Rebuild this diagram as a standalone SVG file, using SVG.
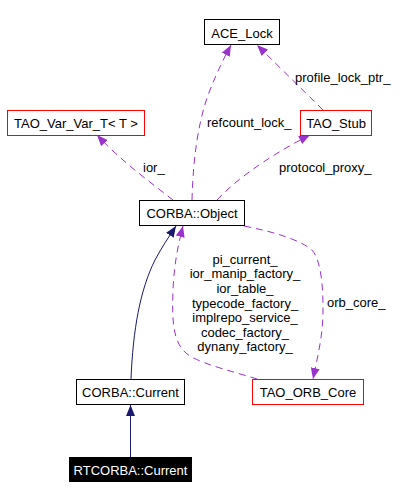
<svg xmlns="http://www.w3.org/2000/svg" width="419" height="499" viewBox="0 0 419 499">
<style>
.box{fill:#ffffff;stroke:#000000;stroke-width:1}
.red{stroke:#ff0000}
.lbl{font-family:"Liberation Sans",Arial,sans-serif;font-size:13px;fill:#000000}
.c{text-anchor:middle}
.dep{fill:none;stroke:#9a32cd;stroke-width:1;stroke-dasharray:7,5}
.inh{fill:none;stroke:#191970;stroke-width:1}
</style>
<defs>
<marker id="ap" markerUnits="userSpaceOnUse" markerWidth="12" markerHeight="9" refX="11" refY="4.5" orient="auto">
<path d="M0,0 L11,4.5 L0,9 z" fill="#9a32cd"/>
</marker>
<marker id="an" markerUnits="userSpaceOnUse" markerWidth="12" markerHeight="9" refX="11" refY="4.5" orient="auto">
<path d="M0,0 L11,4.5 L0,9 z" fill="#191970"/>
</marker>
</defs>
<rect width="419" height="499" fill="#ffffff"/>
<g id="connectors">
<path class="dep" d="M192,200 C193,160 198,120 210,90 C218,70 224,58 231,45" marker-end="url(#ap)"/>
<path class="dep" d="M323,110 L257,45" marker-end="url(#ap)"/>
<path class="dep" d="M173,200 C150,182 120,160 97,135" marker-end="url(#ap)"/>
<path class="dep" d="M217,200 C240,175 280,150 310,135" marker-end="url(#ap)"/>
<path class="dep" d="M244,226 C275,232 300,240 312,250 C322,262 323,290 323,310 C323,335 318,355 313,379" marker-end="url(#ap)"/>
<path class="dep" d="M257,379 C235,372 205,365 190,356 C172,345 172,320 173,290 C174,265 178,245 183,226" marker-end="url(#ap)"/>
<path class="inh" d="M131,379 C133,330 140,290 155,260 C162,247 168,238 176,226" marker-end="url(#an)"/>
<path class="inh" d="M130.5,457 L130.5,405" marker-end="url(#an)"/>
<text class="lbl" x="207" y="127">refcount_lock_</text>
<text class="lbl" x="295" y="82">profile_lock_ptr_</text>
<text class="lbl" x="143" y="172">ior_</text>
<text class="lbl" x="279" y="172">protocol_proxy_</text>
<text class="lbl" x="327" y="307">orb_core_</text>
<text class="lbl c" x="245" y="263.5">pi_current_</text>
<text class="lbl c" x="245" y="278">ior_manip_factory_</text>
<text class="lbl c" x="245" y="293">ior_table_</text>
<text class="lbl c" x="245" y="307.5">typecode_factory_</text>
<text class="lbl c" x="245" y="322">implrepo_service_</text>
<text class="lbl c" x="245" y="336.5">codec_factory_</text>
<text class="lbl c" x="245" y="351">dynany_factory_</text>
</g>
<g id="ACE_Lock">
<rect class="box" x="204.5" y="19.5" width="75" height="25"/>
<text class="lbl c" x="242" y="37.5">ACE_Lock</text>
</g>
<g id="TAO_Var_Var_T">
<rect class="box red" x="7.5" y="110.5" width="137" height="25"/>
<text class="lbl c" x="76" y="128">TAO_Var_Var_T&lt; T &gt;</text>
</g>
<g id="TAO_Stub">
<rect class="box red" x="300.5" y="110.5" width="71" height="25"/>
<text class="lbl c" x="336" y="128">TAO_Stub</text>
</g>
<g id="CORBA_Object">
<rect class="box" x="139.5" y="200.5" width="105" height="25"/>
<text class="lbl c" x="192" y="218">CORBA::Object</text>
</g>
<g id="CORBA_Current">
<rect class="box" x="76.5" y="379.5" width="108" height="25"/>
<text class="lbl c" x="130.5" y="397">CORBA::Current</text>
</g>
<g id="TAO_ORB_Core">
<rect class="box red" x="252.5" y="379.5" width="111" height="25"/>
<text class="lbl c" x="308" y="397">TAO_ORB_Core</text>
</g>
<g id="RTCORBA_Current">
<rect x="69" y="457" width="123" height="25" fill="#000000"/>
<text class="lbl c" x="130.5" y="474.5" style="fill:#ffffff">RTCORBA::Current</text>
</g>
</svg>
